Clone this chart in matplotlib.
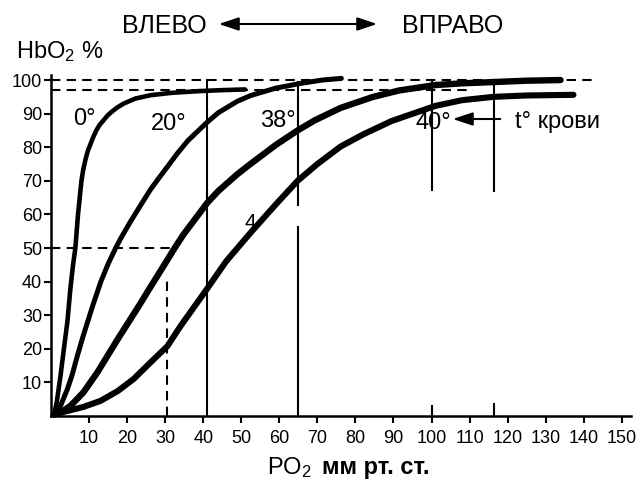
import matplotlib
matplotlib.use('Agg')
import matplotlib.pyplot as plt

W, H = 637, 479
plt.rcParams['font.family'] = ['Liberation Sans', 'DejaVu Sans']
plt.rcParams['mathtext.fontset'] = 'custom'
plt.rcParams['mathtext.rm'] = 'Liberation Sans'
plt.rcParams['mathtext.it'] = 'Liberation Sans:italic'
plt.rcParams['mathtext.bf'] = 'Liberation Sans:bold'
plt.rcParams['mathtext.default'] = 'regular'

# ---- data (PO2 mm Hg, HbO2 %) ----
po2_t0 = [0.8, 1.5, 2.5, 3.5, 4.3, 5.1, 5.8, 6.4, 7.1, 8.0, 8.5, 9.1, 9.7, 10.4,
          11.1, 11.9, 12.8, 13.8, 14.9, 16.1, 17.5, 19.1, 22.2, 26.2, 31.8,
          38.9, 45.0, 51.0]
hb_t0 = [0.5, 4, 12, 21, 28, 38, 45, 50, 60, 70, 73.5, 76.5, 79, 81,
         83, 85, 86.7, 88, 89.5, 90.7, 91.9, 93, 94.5, 95.5, 96.2,
         96.7, 97.0, 97.2]

po2_t20 = [0.8, 2.5, 4.3, 5.5, 6.9, 8.5, 10.9, 13.1, 15.1, 17.0, 18.3, 20.7, 23.7,
           26.2, 28.8, 31.0, 33.3, 36.0, 41.1, 44.0, 49.0, 52.5, 59.1, 65.6,
           71.3, 76.3]
hb_t20 = [0.5, 3, 8, 12, 17.8, 24, 32.6, 40, 45.5, 50, 52.8, 57.5, 63,
          67.5, 71.5, 74.8, 78.3, 82, 87.5, 90.3, 93.7, 95.4, 97.6, 99,
          100, 100.5]

po2_t38 = [0.8, 2.5, 5.1, 8.5, 12.2, 17.5, 23.0, 26.2, 30.6, 32.5, 34.8, 41.1, 44.0,
           49.0, 52.4, 59.1, 64.8, 69.3, 76.1, 84.4, 91.5, 101.0, 107.7, 116.3,
           124.9, 133.9]
hb_t38 = [0.5, 1, 3, 7, 13, 22.8, 32.6, 38.5, 46.5, 50, 54, 63.5, 67,
          72, 75, 80.7, 85, 88, 91.7, 94.9, 96.9, 98.5, 99, 99.4,
          99.8, 100]

po2_t40 = [0.8, 4.3, 8.5, 13.0, 17.5, 21.7, 26.2, 30.6, 34.0, 41.1, 46.0, 52.4,
           59.1, 64.8, 70.0, 76.1, 82.0, 89.5, 101.0, 108.0, 116.3, 124.9, 137.3]
hb_t40 = [0.5, 1.5, 2.7, 4.5, 7.4, 11, 16, 20.8, 26.7, 38, 46, 54.5,
          63, 70, 75, 80.2, 83.8, 87.8, 92.3, 94, 95, 95.4, 95.6]

x_ticks = [10, 20, 30, 40, 50, 60, 70, 80, 90, 100, 110, 120, 130, 140, 150]
y_ticks = [10, 20, 30, 40, 50, 60, 70, 80, 90, 100]

curve_labels = ['0°', '20°', '38°', '40°']

# ---- figure ----
fig = plt.figure(figsize=(W / 100, H / 100), dpi=100)
ax = fig.add_axes([51 / W, (H - 416) / H, 580.3 / W, 341 / H])
ax.set_xlim(0, 152.5)
ax.set_ylim(0, 101.5)

for s in ('top', 'right'):
    ax.spines[s].set_visible(False)
for s in ('left', 'bottom'):
    ax.spines[s].set_linewidth(1.8)

ax.set_xticks(x_ticks)
ax.set_yticks(y_ticks)
ax.tick_params(axis='both', direction='out', length=5, width=1.5, labelsize=13,
               colors='black')
ax.tick_params(axis='x', pad=5)
ax.tick_params(axis='y', pad=1.5)

dash = (0, (4.5, 3))
k = 'black'
# dashed reference lines
ax.plot([0, 143.5], [100, 100], color=k, lw=1.5, ls=dash)
ax.plot([0, 111], [97, 97], color=k, lw=1.5, ls=dash)
ax.plot([0, 31.5], [50, 50], color=k, lw=1.5, ls=dash)
ax.plot([30.5, 30.5], [0, 41], color=k, lw=1.5, ls=dash)

# solid vertical lines
ax.plot([41, 41], [0, 100], color=k, lw=1.5)
ax.plot([64.8, 64.8], [0, 56.3], color=k, lw=1.5)
ax.plot([64.8, 64.8], [62.8, 99.5], color=k, lw=1.5)
ax.plot([100, 100], [67.3, 100], color=k, lw=1.5)
ax.plot([100, 100], [0, 3], color=k, lw=1.5)
ax.plot([116.3, 116.3], [67, 99.5], color=k, lw=1.5)
ax.plot([116.3, 116.3], [0, 3.5], color=k, lw=1.5)

# curves
for xs, ys, lw in ((po2_t0, hb_t0, 3.3), (po2_t20, hb_t20, 3.6),
                   (po2_t38, hb_t38, 4.6), (po2_t40, hb_t40, 4.4)):
    ax.plot(xs, ys, color=k, lw=lw, solid_joinstyle='round',
            solid_capstyle='round', zorder=3, clip_on=False)


def fx(px):
    return px / W


def fy(py):
    return 1 - py / H


# top annotations
fig.text(fx(164), fy(33), 'ВЛЕВО', ha='center', va='baseline', fontsize=18)
fig.text(fx(453), fy(33), 'ВПРАВО', ha='center', va='baseline', fontsize=18)
fig.add_artist(matplotlib.patches.FancyArrowPatch(
    (fx(216), fy(24)), (fx(380), fy(24)), transform=fig.transFigure,
    arrowstyle='<|-|>,head_length=0.6,head_width=0.2', mutation_scale=20,
    lw=1.5, color=k))

fig.text(fx(16), fy(58), 'HbO$_2$ %', ha='left', va='baseline', fontsize=17)

# curve labels
fig.text(fx(84), fy(125), curve_labels[0], ha='center', va='baseline', fontsize=17)
fig.text(fx(169), fy(130), curve_labels[1], ha='center', va='baseline', fontsize=17)
fig.text(fx(278), fy(127), curve_labels[2], ha='center', va='baseline', fontsize=17)
fig.text(fx(433), fy(129), curve_labels[3], ha='center', va='baseline', fontsize=17)
fig.text(fx(515), fy(128), 't° крови', ha='left', va='baseline', fontsize=17)
fig.add_artist(matplotlib.patches.FancyArrowPatch(
    (fx(503), fy(119)), (fx(450), fy(119)), transform=fig.transFigure,
    arrowstyle='-|>,head_length=0.6,head_width=0.2', mutation_scale=20,
    lw=1.5, color=k))
fig.text(fx(250), fy(228), '4', ha='center', va='baseline', fontsize=15)

# x label
fig.text(fx(267), fy(474), 'PO$_2$', ha='left', va='baseline', fontsize=17)
fig.text(fx(322), fy(474), 'мм рт. ст.', ha='left', va='baseline', fontsize=17,
         fontweight='bold')

fig.savefig('out.png', dpi=100)
